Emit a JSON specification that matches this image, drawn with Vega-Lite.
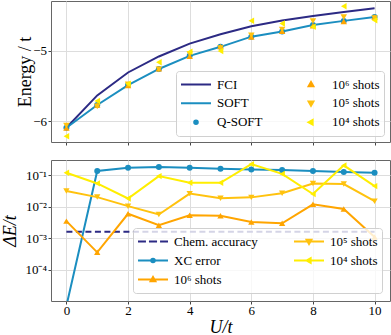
{
  "$schema": "https://vega.github.io/schema/vega-lite/v6.json",
  "padding": {"left": 0, "top": 0, "right": 0, "bottom": 0},
  "spacing": 13,
  "config": {
    "font": "Liberation Serif",
    "view": {"stroke": "#666666", "strokeWidth": 1},
    "axis": {
      "labelFont": "Liberation Serif", "labelFontSize": 13, "labelColor": "#000000",
      "titleFont": "Liberation Serif", "titleFontSize": 18, "titleFontWeight": "normal", "titleColor": "#000000",
      "gridColor": "#dddddd", "gridWidth": 1, "domain": false,
      "tickColor": "#444444", "tickSize": 3, "labelPadding": 1.5,
      "labelFlush": false, "labelOverlap": false
    },
    "legend": {
      "labelFont": "Liberation Serif", "labelFontSize": 13, "labelColor": "#000000", "labelLimit": 300
    }
  },
  "datasets": {
    "top": [
      {"U": 0, "s": "FCI", "E": -6.09}, {"U": 1, "s": "FCI", "E": -5.632}, {"U": 2, "s": "FCI", "E": -5.307},
      {"U": 3, "s": "FCI", "E": -5.08}, {"U": 4, "s": "FCI", "E": -4.897}, {"U": 5, "s": "FCI", "E": -4.764},
      {"U": 6, "s": "FCI", "E": -4.652}, {"U": 7, "s": "FCI", "E": -4.57}, {"U": 8, "s": "FCI", "E": -4.505},
      {"U": 9, "s": "FCI", "E": -4.449}, {"U": 10, "s": "FCI", "E": -4.397},
      {"U": 0, "s": "SOFT", "E": -6.09}, {"U": 1, "s": "SOFT", "E": -5.768}, {"U": 2, "s": "SOFT", "E": -5.486},
      {"U": 3, "s": "SOFT", "E": -5.257}, {"U": 4, "s": "SOFT", "E": -5.071}, {"U": 5, "s": "SOFT", "E": -4.943},
      {"U": 6, "s": "SOFT", "E": -4.799}, {"U": 7, "s": "SOFT", "E": -4.725}, {"U": 8, "s": "SOFT", "E": -4.632},
      {"U": 9, "s": "SOFT", "E": -4.575}, {"U": 10, "s": "SOFT", "E": -4.52},
      {"U": 0, "s": "Q-SOFT", "E": -6.09}, {"U": 1, "s": "Q-SOFT", "E": -5.768}, {"U": 2, "s": "Q-SOFT", "E": -5.486},
      {"U": 3, "s": "Q-SOFT", "E": -5.257}, {"U": 4, "s": "Q-SOFT", "E": -5.071}, {"U": 5, "s": "Q-SOFT", "E": -4.943},
      {"U": 6, "s": "Q-SOFT", "E": -4.799}, {"U": 7, "s": "Q-SOFT", "E": -4.725}, {"U": 8, "s": "Q-SOFT", "E": -4.632},
      {"U": 9, "s": "Q-SOFT", "E": -4.575}, {"U": 10, "s": "Q-SOFT", "E": -4.52},
      {"U": 0, "s": "10⁶ shots", "E": -6.0935}, {"U": 1, "s": "10⁶ shots", "E": -5.7676}, {"U": 2, "s": "10⁶ shots", "E": -5.492},
      {"U": 3, "s": "10⁶ shots", "E": -5.2545}, {"U": 4, "s": "10⁶ shots", "E": -5.0764}, {"U": 5, "s": "10⁶ shots", "E": -4.9377},
      {"U": 6, "s": "10⁶ shots", "E": -4.8023}, {"U": 7, "s": "10⁶ shots", "E": -4.7219}, {"U": 8, "s": "10⁶ shots", "E": -4.6442},
      {"U": 9, "s": "10⁶ shots", "E": -4.5839}, {"U": 10, "s": "10⁶ shots", "E": -4.519},
      {"U": 0, "s": "10⁵ shots", "E": -6.0583}, {"U": 1, "s": "10⁵ shots", "E": -5.7884}, {"U": 2, "s": "10⁵ shots", "E": -5.4755},
      {"U": 3, "s": "10⁵ shots", "E": -5.2627}, {"U": 4, "s": "10⁵ shots", "E": -5.045}, {"U": 5, "s": "10⁵ shots", "E": -4.962},
      {"U": 6, "s": "10⁵ shots", "E": -4.779}, {"U": 7, "s": "10⁵ shots", "E": -4.697}, {"U": 8, "s": "10⁵ shots", "E": -4.5765},
      {"U": 9, "s": "10⁵ shots", "E": -4.522}, {"U": 10, "s": "10⁵ shots", "E": -4.5351},
      {"U": 0, "s": "10⁴ shots", "E": -6.212}, {"U": 1, "s": "10⁴ shots", "E": -5.7125}, {"U": 2, "s": "10⁴ shots", "E": -5.4676},
      {"U": 3, "s": "10⁴ shots", "E": -5.162}, {"U": 4, "s": "10⁴ shots", "E": -5.0125}, {"U": 5, "s": "10⁴ shots", "E": -5.0015},
      {"U": 6, "s": "10⁴ shots", "E": -4.572}, {"U": 7, "s": "10⁴ shots", "E": -4.612}, {"U": 8, "s": "10⁴ shots", "E": -4.658},
      {"U": 9, "s": "10⁴ shots", "E": -4.368}, {"U": 10, "s": "10⁴ shots", "E": -4.5657}
    ],
    "bot": [
      {"U": 0, "s": "Chem. accuracy", "v": 0.0016}, {"U": 10, "s": "Chem. accuracy", "v": 0.0016},
      {"U": 0, "s": "XC error", "v": 0.000007}, {"U": 1, "s": "XC error", "v": 0.138}, {"U": 2, "s": "XC error", "v": 0.176},
      {"U": 3, "s": "XC error", "v": 0.186}, {"U": 4, "s": "XC error", "v": 0.176}, {"U": 5, "s": "XC error", "v": 0.164},
      {"U": 6, "s": "XC error", "v": 0.155}, {"U": 7, "s": "XC error", "v": 0.148}, {"U": 8, "s": "XC error", "v": 0.138},
      {"U": 9, "s": "XC error", "v": 0.128}, {"U": 10, "s": "XC error", "v": 0.122},
      {"U": 0, "s": "10⁶ shots", "v": 0.0035}, {"U": 1, "s": "10⁶ shots", "v": 0.000355}, {"U": 2, "s": "10⁶ shots", "v": 0.006},
      {"U": 3, "s": "10⁶ shots", "v": 0.0026}, {"U": 4, "s": "10⁶ shots", "v": 0.0054}, {"U": 5, "s": "10⁶ shots", "v": 0.0052},
      {"U": 6, "s": "10⁶ shots", "v": 0.0033}, {"U": 7, "s": "10⁶ shots", "v": 0.003}, {"U": 8, "s": "10⁶ shots", "v": 0.012},
      {"U": 9, "s": "10⁶ shots", "v": 0.0085}, {"U": 10, "s": "10⁶ shots", "v": 0.0011},
      {"U": 0, "s": "10⁵ shots", "v": 0.0317}, {"U": 1, "s": "10⁵ shots", "v": 0.0204}, {"U": 2, "s": "10⁵ shots", "v": 0.0105},
      {"U": 3, "s": "10⁵ shots", "v": 0.0057}, {"U": 4, "s": "10⁵ shots", "v": 0.0263}, {"U": 5, "s": "10⁵ shots", "v": 0.0187},
      {"U": 6, "s": "10⁵ shots", "v": 0.02}, {"U": 7, "s": "10⁵ shots", "v": 0.027}, {"U": 8, "s": "10⁵ shots", "v": 0.0555},
      {"U": 9, "s": "10⁵ shots", "v": 0.053}, {"U": 10, "s": "10⁵ shots", "v": 0.0151},
      {"U": 0, "s": "10⁴ shots", "v": 0.122}, {"U": 1, "s": "10⁴ shots", "v": 0.0555}, {"U": 2, "s": "10⁴ shots", "v": 0.0184},
      {"U": 3, "s": "10⁴ shots", "v": 0.095}, {"U": 4, "s": "10⁴ shots", "v": 0.0585}, {"U": 5, "s": "10⁴ shots", "v": 0.0585},
      {"U": 6, "s": "10⁴ shots", "v": 0.23}, {"U": 7, "s": "10⁴ shots", "v": 0.112}, {"U": 8, "s": "10⁴ shots", "v": 0.0255},
      {"U": 9, "s": "10⁴ shots", "v": 0.209}, {"U": 10, "s": "10⁴ shots", "v": 0.0457}
    ]
  },
  "resolve": {"scale": {"fill": "independent", "stroke": "independent", "shape": "independent"},
              "legend": {"fill": "independent", "stroke": "independent", "shape": "independent"}},
  "vconcat": [
    {
      "width": 339, "height": 141,
      "data": {"name": "top"},
      "encoding": {
        "x": {"field": "U", "type": "quantitative", "scale": {"domain": [-0.5, 10.5], "nice": false, "zero": false},
              "axis": {"values": [0, 2, 4, 6, 8, 10], "labels": false, "title": null}},
        "y": {"field": "E", "type": "quantitative", "scale": {"domain": [-6.293, -4.293], "nice": false, "zero": false},
              "axis": {"values": [-6, -5], "title": "Energy / t", "titlePadding": -2}}
      },
      "layer": [
        {"transform": [{"filter": "datum.s === 'FCI' || datum.s === 'SOFT'"}],
         "mark": {"type": "line", "strokeWidth": 2},
         "encoding": {
           "stroke": {"field": "s", "type": "nominal",
             "scale": {"domain": ["FCI", "SOFT", "Q-SOFT", "10⁶ shots", "10⁵ shots", "10⁴ shots"],
                       "range": ["#2c2a84", "#1b8ec0", "#1b8ec0", "#ffa500", "#ffc20e", "#ffee00"]},
             "legend": {"title": null, "orient": "bottom-right", "offset": 6, "columns": 2, "columnPadding": 32,
               "rowPadding": 0, "clipHeight": 18.5, "symbolSize": 900, "symbolStrokeWidth": 2, "symbolOpacity": 1,
               "labelOffset": 5, "padding": 4, "fillColor": "rgba(255,255,255,0.8)", "strokeColor": "#d0d0d0", "cornerRadius": 3}}
         }},
        {"mark": {"type": "point", "filled": true, "opacity": 0, "size": 900},
         "encoding": {
           "fill": {"field": "s", "type": "nominal",
             "scale": {"domain": ["FCI", "SOFT", "Q-SOFT", "10⁶ shots", "10⁵ shots", "10⁴ shots"],
                       "range": ["#2c2a84", "#1b8ec0", "#1b8ec0", "#ffa500", "#ffc20e", "#ffee00"]},
             "legend": {"title": null, "orient": "bottom-right", "offset": 6, "columns": 2, "columnPadding": 32,
               "rowPadding": 0, "clipHeight": 18.5, "symbolSize": 900, "symbolStrokeWidth": 2, "symbolOpacity": 1,
               "labelOffset": 5, "padding": 4, "fillColor": "rgba(255,255,255,0.8)", "strokeColor": "#d0d0d0", "cornerRadius": 3}},
           "stroke": {"field": "s", "type": "nominal",
             "scale": {"domain": ["FCI", "SOFT", "Q-SOFT", "10⁶ shots", "10⁵ shots", "10⁴ shots"],
                       "range": ["#2c2a84", "#1b8ec0", "#1b8ec0", "#ffa500", "#ffc20e", "#ffee00"]},
             "legend": {"title": null, "orient": "bottom-right", "offset": 6, "columns": 2, "columnPadding": 32,
               "rowPadding": 0, "clipHeight": 18.5, "symbolSize": 900, "symbolStrokeWidth": 2, "symbolOpacity": 1,
               "labelOffset": 5, "padding": 4, "fillColor": "rgba(255,255,255,0.8)", "strokeColor": "#d0d0d0", "cornerRadius": 3}},
           "shape": {"field": "s", "type": "nominal",
             "scale": {"domain": ["FCI", "SOFT", "Q-SOFT", "10⁶ shots", "10⁵ shots", "10⁴ shots"],
                       "range": ["M-1,0H1", "M-1,0H1", "M-0.12,0A0.12,0.12,0,1,0,0.12,0A0.12,0.12,0,1,0,-0.12,0Z",
                                 "M0,-0.17L0.16,0.11L-0.16,0.11Z", "M0,0.17L0.16,-0.11L-0.16,-0.11Z", "M-0.17,0L0.11,-0.16L0.11,0.16Z"]},
             "legend": {"title": null, "orient": "bottom-right", "offset": 6, "columns": 2, "columnPadding": 32,
               "rowPadding": 0, "clipHeight": 18.5, "symbolSize": 900, "symbolStrokeWidth": 2, "symbolOpacity": 1,
               "labelOffset": 5, "padding": 4, "fillColor": "rgba(255,255,255,0.8)", "strokeColor": "#d0d0d0", "cornerRadius": 3}}
         }},
        {"transform": [{"filter": "datum.s === 'Q-SOFT'"}],
         "mark": {"type": "point", "filled": true, "shape": "circle", "size": 36, "opacity": 1, "color": "#1b8ec0"}},
        {"transform": [{"filter": "datum.s === '10⁶ shots'"}],
         "mark": {"type": "point", "filled": true, "shape": "triangle-up", "size": 42, "opacity": 1, "color": "#ffa500"}},
        {"transform": [{"filter": "datum.s === '10⁵ shots'"}],
         "mark": {"type": "point", "filled": true, "shape": "triangle-down", "size": 42, "opacity": 1, "color": "#ffc20e"}},
        {"transform": [{"filter": "datum.s === '10⁴ shots'"}],
         "mark": {"type": "point", "filled": true, "shape": "triangle-left", "size": 42, "opacity": 1, "color": "#ffee00"}}
      ]
    },
    {
      "width": 339, "height": 141,
      "data": {"name": "bot"},
      "encoding": {
        "x": {"field": "U", "type": "quantitative", "scale": {"domain": [-0.5, 10.5], "nice": false, "zero": false},
              "axis": {"values": [0, 2, 4, 6, 8, 10], "title": "U/t", "titleFontStyle": "italic", "labelPadding": 0, "titlePadding": 1}},
        "y": {"field": "v", "type": "quantitative", "scale": {"type": "log", "domain": [0.00001, 0.31], "nice": false},
              "axis": {"values": [0.0001, 0.001, 0.01, 0.1], "title": "ΔE/t", "titleFontStyle": "italic", "titlePadding": 5.7,
                       "labelExpr": "datum.value > 0.05 ? '10⁻¹' : datum.value > 0.005 ? '10⁻²' : datum.value > 0.0005 ? '10⁻³' : '10⁻⁴'"}}
      },
      "layer": [
        {"transform": [{"filter": "datum.s === 'Chem. accuracy'"}],
         "mark": {"type": "line", "strokeWidth": 2, "strokeDash": [6, 3.5], "clip": true},
         "encoding": {
           "stroke": {"field": "s", "type": "nominal",
             "scale": {"domain": ["Chem. accuracy", "XC error", "10⁶ shots", "10⁵ shots", "10⁴ shots"],
                       "range": ["#2c2a84", "#1b8ec0", "#ffa500", "#ffc20e", "#ffee00"]},
             "legend": {"title": null, "orient": "bottom-right", "offset": 8, "columns": 2, "columnPadding": 35,
               "rowPadding": 0, "clipHeight": 19, "symbolSize": 900, "symbolStrokeWidth": 2, "symbolOpacity": 1,
               "labelOffset": 5, "padding": 4, "fillColor": "rgba(255,255,255,0.8)", "strokeColor": "#d0d0d0", "cornerRadius": 3}}
         }},
        {"transform": [{"filter": "datum.s !== 'Chem. accuracy'"}],
         "mark": {"type": "line", "strokeWidth": 2, "clip": true},
         "encoding": {
           "stroke": {"field": "s", "type": "nominal",
             "scale": {"domain": ["Chem. accuracy", "XC error", "10⁶ shots", "10⁵ shots", "10⁴ shots"],
                       "range": ["#2c2a84", "#1b8ec0", "#ffa500", "#ffc20e", "#ffee00"]},
             "legend": {"title": null, "orient": "bottom-right", "offset": 8, "columns": 2, "columnPadding": 35,
               "rowPadding": 0, "clipHeight": 19, "symbolSize": 900, "symbolStrokeWidth": 2, "symbolOpacity": 1,
               "labelOffset": 5, "padding": 4, "fillColor": "rgba(255,255,255,0.8)", "strokeColor": "#d0d0d0", "cornerRadius": 3}}
         }},
        {"mark": {"type": "point", "filled": true, "opacity": 0, "size": 900, "clip": true},
         "encoding": {
           "fill": {"field": "s", "type": "nominal",
             "scale": {"domain": ["Chem. accuracy", "XC error", "10⁶ shots", "10⁵ shots", "10⁴ shots"],
                       "range": ["#2c2a84", "#1b8ec0", "#ffa500", "#ffc20e", "#ffee00"]},
             "legend": {"title": null, "orient": "bottom-right", "offset": 8, "columns": 2, "columnPadding": 35,
               "rowPadding": 0, "clipHeight": 19, "symbolSize": 900, "symbolStrokeWidth": 2, "symbolOpacity": 1,
               "labelOffset": 5, "padding": 4, "fillColor": "rgba(255,255,255,0.8)", "strokeColor": "#d0d0d0", "cornerRadius": 3}},
           "stroke": {"field": "s", "type": "nominal",
             "scale": {"domain": ["Chem. accuracy", "XC error", "10⁶ shots", "10⁵ shots", "10⁴ shots"],
                       "range": ["#2c2a84", "#1b8ec0", "#ffa500", "#ffc20e", "#ffee00"]},
             "legend": {"title": null, "orient": "bottom-right", "offset": 8, "columns": 2, "columnPadding": 35,
               "rowPadding": 0, "clipHeight": 19, "symbolSize": 900, "symbolStrokeWidth": 2, "symbolOpacity": 1,
               "labelOffset": 5, "padding": 4, "fillColor": "rgba(255,255,255,0.8)", "strokeColor": "#d0d0d0", "cornerRadius": 3}},
           "shape": {"field": "s", "type": "nominal",
             "scale": {"domain": ["Chem. accuracy", "XC error", "10⁶ shots", "10⁵ shots", "10⁴ shots"],
                       "range": ["M-1,0H-0.47M-0.27,0H0.27M0.47,0H1",
                                 "M-1,0H1M-0.12,0A0.12,0.12,0,1,0,0.12,0A0.12,0.12,0,1,0,-0.12,0Z",
                                 "M-1,0H1M0,-0.17L0.16,0.11L-0.16,0.11Z",
                                 "M-1,0H1M0,0.17L0.16,-0.11L-0.16,-0.11Z",
                                 "M-1,0H1M-0.17,0L0.11,-0.16L0.11,0.16Z"]},
             "legend": {"title": null, "orient": "bottom-right", "offset": 8, "columns": 2, "columnPadding": 35,
               "rowPadding": 0, "clipHeight": 19, "symbolSize": 900, "symbolStrokeWidth": 2, "symbolOpacity": 1,
               "labelOffset": 5, "padding": 4, "fillColor": "rgba(255,255,255,0.8)", "strokeColor": "#d0d0d0", "cornerRadius": 3}}
         }},
        {"transform": [{"filter": "datum.s === 'XC error'"}],
         "mark": {"type": "point", "filled": true, "shape": "circle", "size": 36, "opacity": 1, "color": "#1b8ec0", "clip": true}},
        {"transform": [{"filter": "datum.s === '10⁶ shots'"}],
         "mark": {"type": "point", "filled": true, "shape": "triangle-up", "size": 40, "opacity": 1, "color": "#ffa500", "clip": true}},
        {"transform": [{"filter": "datum.s === '10⁵ shots'"}],
         "mark": {"type": "point", "filled": true, "shape": "triangle-down", "size": 40, "opacity": 1, "color": "#ffc20e", "clip": true}},
        {"transform": [{"filter": "datum.s === '10⁴ shots'"}],
         "mark": {"type": "point", "filled": true, "shape": "triangle-left", "size": 40, "opacity": 1, "color": "#ffee00", "clip": true}}
      ]
    }
  ]
}
